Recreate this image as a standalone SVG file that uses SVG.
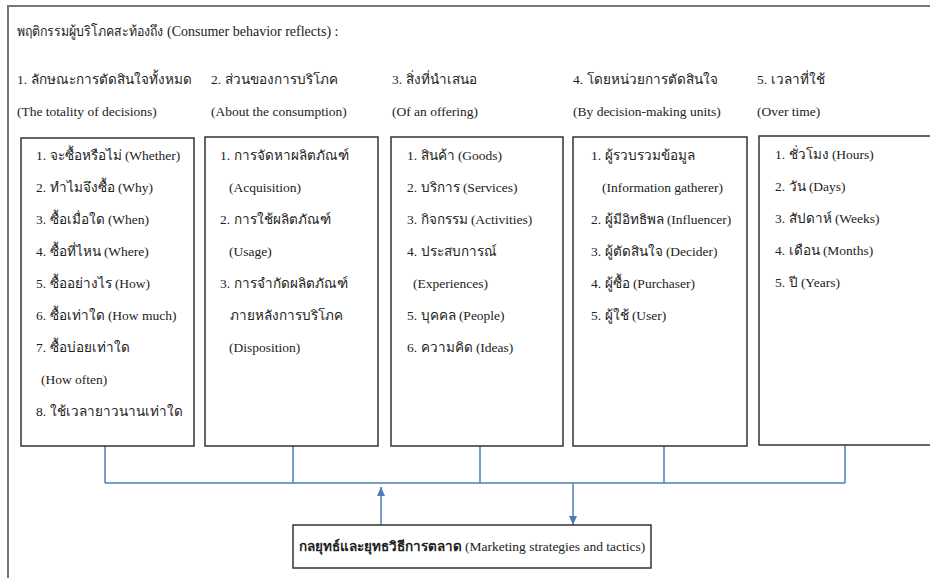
<svg xmlns="http://www.w3.org/2000/svg" width="930" height="578" viewBox="0 0 930 578">
<defs>
<marker id="ah" viewBox="0 0 10 10" refX="10" refY="5" markerWidth="9" markerHeight="8" markerUnits="userSpaceOnUse" orient="auto" preserveAspectRatio="none"><path d="M0,0 L10,5 L0,10 z" fill="#4a7ebb"/></marker>
</defs>
<style>
text{font-family:"Liberation Serif","DejaVu Serif",serif;font-size:13.5px;fill:#222}
.t{font-size:14px}
.box{fill:#fff;stroke:#333;stroke-width:1.5}
.con{fill:none;stroke:#4a7ebb;stroke-width:1.5}
.b{font-weight:bold}
</style>
<rect width="930" height="578" fill="#fff"/>
<path d="M8,580 V6 H932" fill="none" stroke="#777" stroke-width="2"/>
<g id="title">
<text class="t" x="17" y="36" textLength="146" lengthAdjust="spacingAndGlyphs">พฤติกรรมผู้บริโภคสะท้องถึง</text>
<text class="t" x="167" y="36">(Consumer behavior reflects) :</text>
</g>
<g id="headers">
<text x="17" y="84">1. ลักษณะการตัดสินใจทั้งหมด</text><text x="17" y="116">(The totality of decisions)</text>
<text x="211" y="84">2. ส่วนของการบริโภค</text><text x="211" y="116">(About the consumption)</text>
<text x="392" y="84">3. สิ่งที่นำเสนอ</text><text x="392" y="116">(Of an offering)</text>
<text x="573" y="84">4. โดยหน่วยการตัดสินใจ</text><text x="573" y="116">(By decision-making units)</text>
<text x="757" y="84">5. เวลาที่ใช้</text><text x="757" y="116">(Over time)</text>
</g>
<g id="connectors">
<path class="con" d="M105,446 V483 M293,446 V483 M480,446 V483 M664,446 V483 M845,445 V483 M105,483 H845"/>
<path class="con" d="M381,525 V487" marker-end="url(#ah)"/>
<path class="con" d="M573,483 V525" marker-end="url(#ah)"/>
</g>
<g id="node-decisions">
<rect class="box" x="21" y="138" width="173" height="308"/>
<text x="36" y="160">1. จะซื้อหรือไม่ (Whether)</text>
<text x="36" y="192">2. ทำไมจึงซื้อ (Why)</text>
<text x="36" y="224">3. ซื้อเมื่อใด (When)</text>
<text x="36" y="256">4. ซื้อที่ไหน (Where)</text>
<text x="36" y="288">5. ซื้ออย่างไร (How)</text>
<text x="36" y="320">6. ซื้อเท่าใด (How much)</text>
<text x="36" y="352">7. ซื้อบ่อยเท่าใด</text>
<text x="41" y="384">(How often)</text>
<text x="36" y="416">8. ใช้เวลายาวนานเท่าใด</text>
</g>
<g id="node-consumption">
<rect class="box" x="205" y="137" width="173" height="309"/>
<text x="220" y="160">1. การจัดหาผลิตภัณฑ์</text>
<text x="229" y="192">(Acquisition)</text>
<text x="220" y="224">2. การใช้ผลิตภัณฑ์</text>
<text x="229" y="256">(Usage)</text>
<text x="220" y="288">3. การจำกัดผลิตภัณฑ์</text>
<text x="230" y="320">ภายหลังการบริโภค</text>
<text x="229" y="352">(Disposition)</text>
</g>
<g id="node-offering">
<rect class="box" x="391" y="137" width="172" height="309"/>
<text x="407" y="160">1. สินค้า (Goods)</text>
<text x="407" y="192">2. บริการ (Services)</text>
<text x="407" y="224">3. กิจกรรม (Activities)</text>
<text x="407" y="256">4. ประสบการณ์</text>
<text x="413" y="288">(Experiences)</text>
<text x="407" y="320">5. บุคคล (People)</text>
<text x="407" y="352">6. ความคิด (Ideas)</text>
</g>
<g id="node-units">
<rect class="box" x="573" y="137" width="174" height="309"/>
<text x="591" y="160">1. ผู้รวบรวมข้อมูล</text>
<text x="602" y="192">(Information gatherer)</text>
<text x="591" y="224">2. ผู้มีอิทธิพล (Influencer)</text>
<text x="591" y="256">3. ผู้ตัดสินใจ (Decider)</text>
<text x="591" y="288">4. ผู้ซื้อ (Purchaser)</text>
<text x="591" y="320">5. ผู้ใช้ (User)</text>
</g>
<g id="node-time">
<rect class="box" x="759" y="136" width="180" height="309"/>
<text x="775" y="159">1. ชั่วโมง (Hours)</text>
<text x="775" y="191">2. วัน (Days)</text>
<text x="775" y="223">3. สัปดาห์ (Weeks)</text>
<text x="775" y="255">4. เดือน (Months)</text>
<text x="775" y="287">5. ปี (Years)</text>
</g>
<g id="node-strategy">
<rect class="box" x="293" y="525" width="358" height="43"/>
<text x="472" y="551" text-anchor="middle"><tspan class="b">กลยุทธ์และยุทธวิธีการตลาด</tspan> (Marketing strategies and tactics)</text>
</g>
</svg>
